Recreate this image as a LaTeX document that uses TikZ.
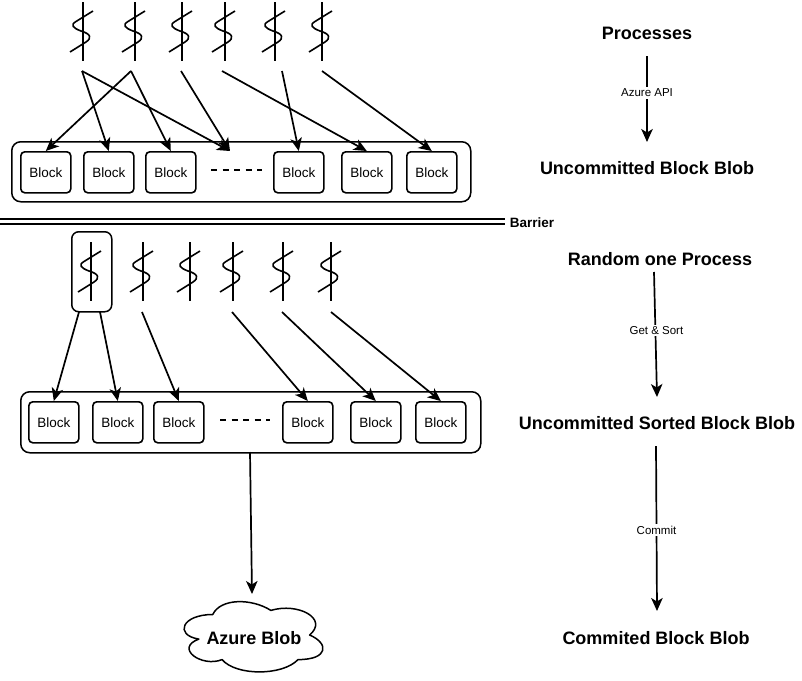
\documentclass[tikz,border=0pt]{standalone}
\usepackage{fontspec}
\setmainfont{Liberation Sans}
\usetikzlibrary{arrows.meta}
\tikzset{
  x=1pt,y=-1pt,
  blockbox/.style={draw,line width=1.6pt,rounded corners=4pt,minimum width=50pt,minimum height=41pt,inner sep=0pt,font=\fontsize{13.5}{15}\selectfont,anchor=north west},
  holder/.style={draw,line width=1.5pt,rounded corners=9pt,anchor=north west,inner sep=0pt},
  arr/.style={line width=1.7pt,-{Stealth[length=13pt,width=11.5pt,inset=3.5pt]}},
  title/.style={font=\fontsize{18}{20}\bfseries\selectfont,inner sep=0pt},
  edgelabel/.style={font=\fontsize{11.5}{13}\selectfont,fill=white,inner sep=1.5pt},
  proc/.pic={
    \draw[line width=1.6pt] (0,0) -- (0,59);
    \draw[line width=1.6pt,line join=round] (10,9) -- (-7,19.5) .. controls (-13,23) and (-10,26) .. (-2,29) .. controls (8,32) and (9,36) .. (3,40) -- (-13,50);
  }
}
\begin{document}
\begin{tikzpicture}
\useasboundingbox (0,0) rectangle (802,680);
\fill[white] (0,0) rectangle (802,680);

% upper row
\node[holder,minimum width=459pt,minimum height=60pt] (topholder) at (11,141) {};
\foreach \n/\x in {a/20,b/83,c/145,d/273,e/341,f/406}
  \node[blockbox] (top\n) at (\x,151) {Block};
\coordinate (topdashA) at (211,170);
\coordinate (topdashB) at (262,170);
\draw[line width=1.4pt,dash pattern=on 6pt off 5.5pt] (topdashA) -- (topdashB);
\foreach \n/\x in {1/83,2/135,3/182,4/225,5/275,6/322}
  \pic at (\x,2) {proc};
\coordinate (s1) at (82,71);
\coordinate (s2) at (131,71);
\coordinate (s3) at (181,71);
\coordinate (s4) at (222,71);
\coordinate (s5) at (282,71);
\coordinate (s6) at (322,71);
\coordinate (gap) at (230,151);
\draw[arr] (s1) -- (topb.north);
\draw[arr] (s1) -- (gap);
\draw[arr] (s2) -- (topa.north);
\draw[arr] (s2) -- (topc.north);
\draw[arr] (s3) -- (gap);
\draw[arr] (s4) -- (tope.north);
\draw[arr] (s5) -- (topd.north);
\draw[arr] (s6) -- (topf.north);

% barrier
\coordinate (barL1) at (0,219);
\coordinate (barR1) at (505,219);
\coordinate (barL2) at (0,224);
\coordinate (barR2) at (505,224);
\draw[line width=1.7pt] (barL1) -- (barR1);
\draw[line width=1.7pt] (barL2) -- (barR2);
\node[font=\fontsize{13.5}{15}\bfseries\selectfont,inner sep=0pt] (barrier) at (532,223) {Barrier};

% lower row
\node[holder,minimum width=460pt,minimum height=61pt] (lowholder) at (20,391) {};
\foreach \n/\x in {a/28,b/92,c/153,d/282,e/350,f/415}
  \node[blockbox] (low\n) at (\x,401) {Block};
\coordinate (lowdashA) at (220,420);
\coordinate (lowdashB) at (270,420);
\draw[line width=1.4pt,dash pattern=on 6pt off 5.5pt] (lowdashA) -- (lowdashB);
\node[draw,line width=1.5pt,rounded corners=7pt,minimum width=40pt,minimum height=80pt,inner sep=0pt,anchor=north west] (chosen) at (71,231) {};
\foreach \n/\x in {1/91,2/143,3/190,4/233,5/283,6/331}
  \pic at (\x,242) {proc};
\coordinate (c1) at (79,312);
\coordinate (c2) at (100,312);
\coordinate (t3) at (142,312);
\coordinate (t4) at (232,312);
\coordinate (t5) at (282,312);
\coordinate (t6) at (331,312);
\draw[arr] (c1) -- (lowa.north);
\draw[arr] (c2) -- (lowb.north);
\draw[arr] (t3) -- (lowc.north);
\draw[arr] (t4) -- (lowd.north);
\draw[arr] (t5) -- (lowe.north);
\draw[arr] (t6) -- (lowf.north);

% cloud
\begin{scope}[shift={(174,594)},x=1.55pt,y=-0.82pt]
\draw[line width=1.5pt,line join=round] (25,25) .. controls (5,25) and (0,50) .. (16,55)
  .. controls (0,66) and (18,90) .. (31,80)
  .. controls (40,100) and (70,100) .. (80,80)
  .. controls (100,80) and (100,60) .. (87.5,50)
  .. controls (100,30) and (80,10) .. (62.5,20)
  .. controls (50,5) and (30,5) .. (25,25) -- cycle;
\end{scope}
\node[font=\fontsize{18}{20}\bfseries\selectfont,inner sep=0pt] (blob) at (254,638) {Azure Blob};
\coordinate (cloudtop) at (252,594);
\coordinate (lowout) at (250,452);
\draw[arr] (lowout) -- (cloudtop);

% right column
\node[title] (t1) at (647,33) {Processes};
\node[title] (t2) at (647,168) {Uncommitted Block Blob};
\node[title] (t3b) at (660,259) {Random one Process};
\node[title] (t4b) at (657,423) {Uncommitted Sorted Block Blob};
\node[title] (t5b) at (656,638) {Commited Block Blob};
\coordinate (r1a) at (647,56);
\coordinate (r1b) at (647,142);
\coordinate (r2a) at (654,272);
\coordinate (r2b) at (657,397);
\coordinate (r3a) at (656,446);
\coordinate (r3b) at (657,611);
\draw[arr] (r1a) -- (r1b) node[edgelabel,midway,yshift=6pt] {Azure API};
\draw[arr] (r2a) -- (r2b) node[edgelabel,pos=.47,xshift=1pt] {Get \& Sort};
\draw[arr] (r3a) -- (r3b) node[edgelabel,pos=.51] {Commit};
\end{tikzpicture}
\end{document}
